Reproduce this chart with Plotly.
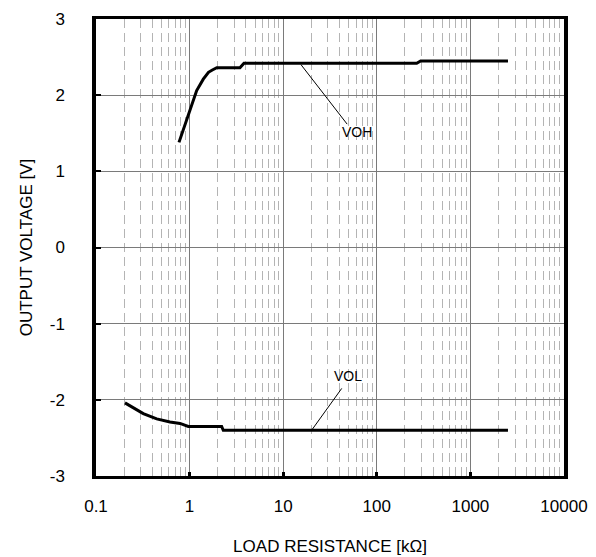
import math
import plotly.graph_objects as go

# Data
voh_r = [0.77, 1.0, 1.19, 1.40, 1.59, 1.75, 1.95, 3.45, 3.81, 267, 294, 2520]
voh_v = [1.38, 1.80, 2.06, 2.21, 2.30, 2.33, 2.36, 2.36, 2.42, 2.42, 2.45, 2.45]
vol_r = [0.204, 0.25, 0.32, 0.445, 0.617, 0.79, 0.968, 2.20, 2.29, 2520]
vol_v = [-2.04, -2.10, -2.18, -2.25, -2.29, -2.31, -2.35, -2.35, -2.40, -2.40]

x_ticks = [0.1, 1, 10, 100, 1000, 10000]
x_tick_text = ["0.1", "1", "10", "100", "1000", "10000"]
y_ticks = [-3, -2, -1, 0, 1, 2, 3]
y_tick_text = ["-3", "-2", "-1", "0", "1", "2", "3"]

# annotation pointers: (label, label_x, label_y, line_x0, line_y0, line_x1, line_y1)
labels = [
    ("VOH", 61.5, 1.52, 15.5, 2.40, 48.2, 1.62),
    ("VOL", 49.4, -1.69, 20.1, -2.40, 42.2, -1.85),
]

FONT = "Liberation Sans, Arial, sans-serif"
NB = "\u00a0"

minor_vals = [m * 10 ** e for e in range(-1, 4) for m in range(2, 10)]

fig = go.Figure()
fig.add_trace(go.Scatter(x=voh_r, y=voh_v, mode="lines",
                         line=dict(color="black", width=3), showlegend=False))
fig.add_trace(go.Scatter(x=vol_r, y=vol_v, mode="lines",
                         line=dict(color="black", width=3), showlegend=False))
# invisible copy on the overlay axis so that its inside tick marks are drawn
fig.add_trace(go.Scatter(x=vol_r, y=vol_v, mode="lines", xaxis="x2",
                         line=dict(color="rgba(0,0,0,0)", width=0), showlegend=False,
                         hoverinfo="skip"))

for name, lx, ly, x0, y0, x1, y1 in labels:
    fig.add_trace(go.Scatter(x=[x0, x1], y=[y0, y1], mode="lines",
                             line=dict(color="black", width=1), showlegend=False))
    fig.add_annotation(x=math.log10(lx), y=ly, text=name, showarrow=False,
                       font=dict(family=FONT, size=14, color="black"))

fig.update_layout(
    xaxis=dict(
        type="log", range=[-1, 4], automargin=False,
        tickvals=x_ticks, ticktext=x_tick_text,
        ticks="outside", ticklen=13, tickwidth=1, tickcolor="rgba(0,0,0,0)",
        showgrid=True, gridcolor="#7a7a7a", gridwidth=1,
        minor=dict(showgrid=True, tickvals=minor_vals, gridcolor="#b4b4b4", gridwidth=1,
                   griddash="9px,5px", ticks=""),
        showline=True, mirror=True, linecolor="black", linewidth=3,
        zeroline=False,
        tickfont=dict(family=FONT, size=17, color="black"),
        title=dict(text="LOAD RESISTANCE [kΩ]", font=dict(family=FONT, size=17, color="black"),
                   standoff=25),
    ),
    xaxis2=dict(
        type="log", range=[-1, 4], overlaying="x", anchor="y", side="bottom",
        automargin=False, tickvals=x_ticks[1:-1], showticklabels=False,
        ticks="inside", ticklen=4, tickwidth=3, tickcolor="black",
        showgrid=False, zeroline=False, showline=False,
    ),
    yaxis=dict(
        range=[-3, 3], tickvals=y_ticks, ticktext=[t + NB * 5 for t in y_tick_text],
        automargin=False,
        ticks="inside", ticklen=5, tickwidth=2, tickcolor="black",
        showgrid=True, gridcolor="#7a7a7a", gridwidth=1,
        showline=True, mirror=True, linecolor="black", linewidth=4,
        zeroline=False,
        tickfont=dict(family=FONT, size=17, color="black"),
        title=dict(text="OUTPUT VOLTAGE [V]", font=dict(family=FONT, size=17, color="black"),
                   standoff=14),
    ),
    # the page adds an 8px body margin, so the figure is 8px smaller
    width=588, height=549,
    margin=dict(l=88, r=32, t=11, b=81),
    plot_bgcolor="white", paper_bgcolor="white",
)

fig.write_html("out.html")
